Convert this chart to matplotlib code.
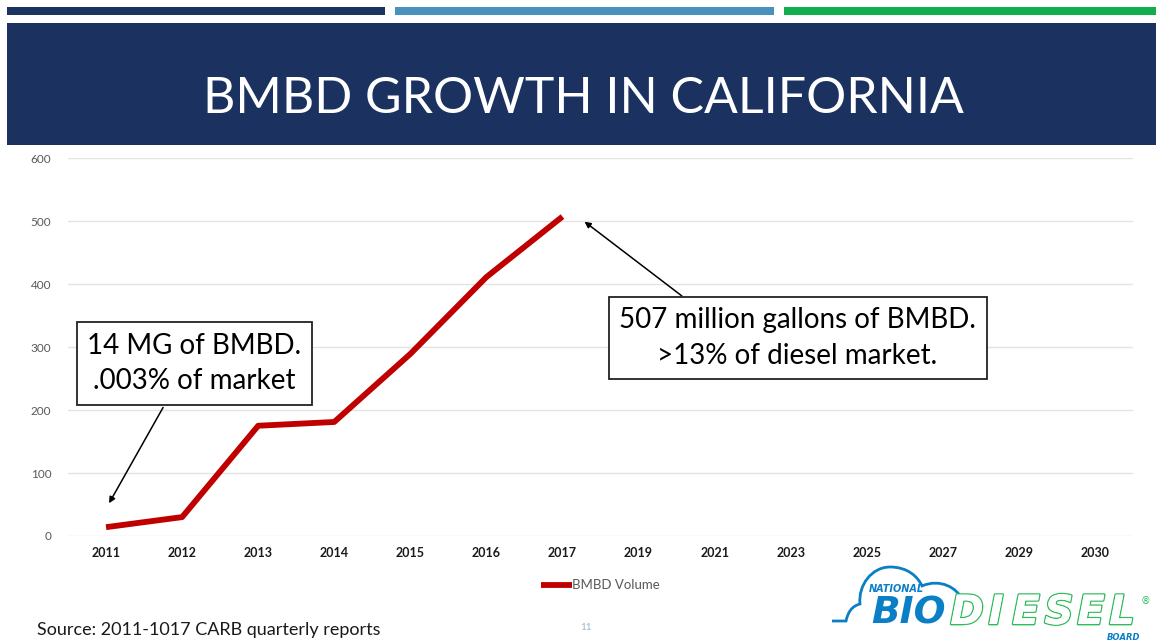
import matplotlib
matplotlib.use("Agg")
import matplotlib.pyplot as plt
import numpy as np
from matplotlib.patches import Rectangle, PathPatch
from matplotlib.path import Path
import matplotlib.patheffects as pe

years = ["2011", "2012", "2013", "2014", "2015", "2016", "2017",
         "2019", "2021", "2023", "2025", "2027", "2029", "2030"]
bmbd_volume = [14, 30, 175, 181, 289, 411, 507,
               None, None, None, None, None, None, None]
y_ticks = [0, 100, 200, 300, 400, 500, 600]

title = "BMBD GROWTH IN CALIFORNIA"
note_left = "14 MG of BMBD.\n.003% of market"
note_right = "507 million gallons of BMBD.\n>13% of diesel market."
source = "Source: 2011-1017 CARB quarterly reports"

FONT = "Lato"
W, H = 1156, 640
fig = plt.figure(figsize=(W / 100, H / 100), dpi=100)
fig.patch.set_facecolor("white")

# overlay in pixel coordinates for slide decoration
deco = fig.add_axes([0, 0, 1, 1])
deco.set_xlim(0, W)
deco.set_ylim(H, 0)
deco.axis("off")
deco.add_patch(Rectangle((7, 7), 378, 8, color="#1c3360", lw=0))
deco.add_patch(Rectangle((395, 7), 379, 8, color="#4a90bc", lw=0))
deco.add_patch(Rectangle((784, 7), 372, 8, color="#12ad4f", lw=0))
deco.add_patch(Rectangle((7, 23), 1149, 122, color="#1b3260", lw=0))
deco.text(583, 99, title, color="white", fontsize=36, family=FONT,
          ha="center", va="center")

# chart
ax = fig.add_axes([68 / W, 1 - 536 / H, (1133 - 68) / W, (536 - 158) / H])
x = np.arange(len(years))
vals = np.array([np.nan if v is None else v for v in bmbd_volume], dtype=float)
line, = ax.plot(x, vals, color="#c00000", lw=4.2, solid_capstyle="butt",
                label="BMBD Volume", zorder=3)
ax.set_xlim(-0.5, len(years) - 0.5)
ax.set_ylim(0, 600)
ax.set_yticks(y_ticks)
ax.set_yticklabels([str(t) for t in y_ticks], fontsize=8.5, color="#595959",
                   family=FONT)
ax.set_xticks(x)
ax.set_xticklabels(years, fontsize=9, fontweight="bold", color="#1a1a1a",
                   family=FONT)
ax.tick_params(axis="both", length=0)
ax.tick_params(axis="x", pad=8)
ax.tick_params(axis="y", pad=12)
ax.grid(axis="y", color="#e3e3e3", lw=1)
ax.set_axisbelow(True)
for s in ax.spines.values():
    s.set_visible(False)

leg = ax.legend(handles=[line], loc="center", bbox_to_anchor=(0.5, -0.13),
                frameon=False, prop={"family": FONT, "size": 9.5},
                handlelength=2.3, handletextpad=0.0)
for t in leg.get_texts():
    t.set_color("#595959")

# annotations
box = dict(boxstyle="square,pad=0.38", fc="white", ec="#222222", lw=1.3)
ax.annotate("", xy=(0.04, 52), xytext=(0.75, 204),
            arrowprops=dict(arrowstyle="-|>", color="black", lw=1.1,
                            mutation_scale=9, shrinkA=0, shrinkB=0))
ax.text(1.16, 274, note_left, fontsize=20, family=FONT, ha="center",
        va="center", bbox=box, linespacing=1.45, zorder=5)
ax.annotate("", xy=(6.29, 499), xytext=(7.57, 381),
            arrowprops=dict(arrowstyle="-|>", color="black", lw=1.1,
                            mutation_scale=9, shrinkA=0, shrinkB=0))
ax.text(9.09, 314, note_right, fontsize=20, family=FONT, ha="center",
        va="center", bbox=box, linespacing=1.45, zorder=5)

# footer
deco.text(37, 635, source, fontsize=13, family=FONT, color="#1a1a1a",
          ha="left", va="baseline")
deco.text(586, 627, "11", fontsize=7, family=FONT, color="#8fb4d0",
          ha="center", va="center")

# logo
blue = "#0a7fc6"
green = "#2dbb5b"
verts = [(832, 621), (846, 621),
         (848, 612), (852, 606), (860, 604),
         (858, 585), (872, 567), (890, 567),
         (908, 567), (918, 577), (922, 586),
         (940, 578), (958, 588), (962, 600)]
codes = [Path.MOVETO, Path.LINETO] + [Path.CURVE4] * 12
deco.add_patch(PathPatch(Path(verts, codes), fill=False, ec=blue, lw=2))
deco.text(896, 589, "NATIONAL", fontsize=7, fontweight="bold", style="italic",
          color=blue, family="DejaVu Sans", ha="center", va="center")
deco.text(908, 613, "BIO", fontsize=27, fontweight="bold", style="italic",
          color=blue, family="DejaVu Sans", ha="center", va="center")
for i, ch in enumerate("DIESEL"):
    cx = [967, 996, 1026, 1059, 1091, 1122][i]
    deco.text(cx, 613, ch, fontsize=29, fontweight="bold", style="italic",
              color="white", family="DejaVu Sans", ha="center", va="center",
              path_effects=[pe.withStroke(linewidth=2.0, foreground=green),
                            pe.Normal()])
deco.text(1146, 601, "®", fontsize=7, color=green, ha="center", va="center")
deco.text(1124, 637, "BOARD", fontsize=6, fontweight="bold", style="italic",
          color=blue, family="DejaVu Sans", ha="center", va="center")

fig.savefig("out.png", dpi=100, facecolor="white")
